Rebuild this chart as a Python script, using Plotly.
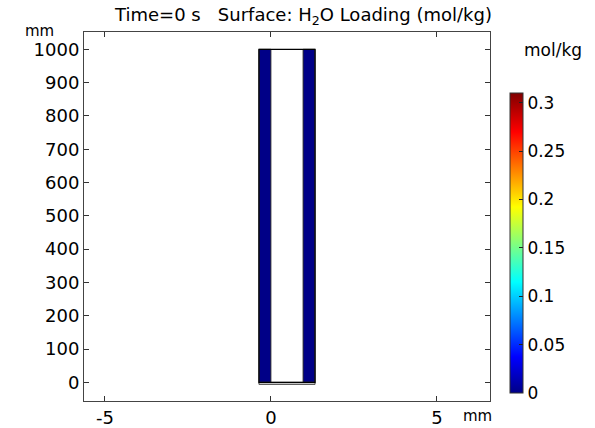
import plotly.graph_objects as go

# --- data ---
wall_x_edges = [-0.36, 0.0, 0.97, 1.33]   # mm: left wall, gap, right wall
wall_y_edges = [0, 1000]                   # mm
loading = [[0.0, None, 0.0]]               # mol/kg at Time=0 s
base_strip_y = [-6, 0]                     # thin bottom boundary strip (mm)
x_ticks = [-5, 0, 5]
x_tick_text = ["-5", "0", "5"]
y_ticks = [0, 100, 200, 300, 400, 500, 600, 700, 800, 900, 1000]
cbar_ticks = [0, 0.05, 0.1, 0.15, 0.2, 0.25, 0.3]
cmin, cmax = 0.0, 0.31

FONT = "DejaVu Sans"
rainbow = [
    [0.0, "rgb(0,0,135)"],
    [0.12, "rgb(0,0,255)"],
    [0.37, "rgb(0,255,255)"],
    [0.62, "rgb(255,255,0)"],
    [0.87, "rgb(255,0,0)"],
    [1.0, "rgb(128,0,0)"],
]

fig = go.Figure()
fig.add_trace(go.Heatmap(
    x=wall_x_edges, y=wall_y_edges, z=loading,
    colorscale=rainbow, zmin=cmin, zmax=cmax,
    hoverongaps=False,
    colorbar=dict(
        x=1.049, xanchor="left", xref="paper",
        y=0.428, yanchor="middle",
        thickness=13, thicknessmode="pixels",
        len=300, lenmode="pixels",
        outlinecolor="#333333", outlinewidth=1,
        ticks="inside", ticklen=4, tickcolor="#222222",
        tickvals=cbar_ticks, ticktext=[f"{v:g}" for v in cbar_ticks],
        tickfont=dict(family=FONT, size=17, color="black"),
        xpad=0, ypad=0,
    ),
))

x0, x1 = wall_x_edges[0], wall_x_edges[-1]
# bottom boundary strip
fig.add_shape(type="rect", x0=x0, x1=x1, y0=base_strip_y[0], y1=base_strip_y[1],
              fillcolor="#d8d8d8", line=dict(color="#444444", width=1))
# outline of the two walls and the domain
for i in (0, 2):
    fig.add_shape(type="rect", x0=wall_x_edges[i], x1=wall_x_edges[i + 1],
                  y0=wall_y_edges[0], y1=wall_y_edges[1],
                  line=dict(color="#333333", width=1))
fig.add_shape(type="rect", x0=x0, x1=x1, y0=wall_y_edges[0], y1=wall_y_edges[1],
              line=dict(color="black", width=1.2))

axis_common = dict(
    showgrid=False, zeroline=False, automargin=False,
    showline=True, linecolor="#444444", linewidth=1, mirror="ticks",
    ticks="inside", ticklen=5, tickcolor="#333333",
    tickfont=dict(family=FONT, size=18, color="black"),
)
fig.update_xaxes(range=[-5.63, 6.6], tickvals=x_ticks, ticktext=x_tick_text,
                 **axis_common)
fig.update_yaxes(range=[-56, 1052], tickvals=y_ticks, **axis_common)

fig.update_layout(
    width=595, height=428,
    margin=dict(l=84, r=105, t=32, b=27, autoexpand=False),
    paper_bgcolor="white", plot_bgcolor="white",
    showlegend=False,
    font=dict(family=FONT, color="black"),
    annotations=[
        dict(text="Time=0 s   Surface: H<sub>2</sub>O Loading (mol/kg)",
             xref="paper", yref="paper", x=0.54, y=1.0, yshift=16,
             xanchor="center", yanchor="middle", showarrow=False,
             font=dict(family=FONT, size=18, color="black")),
        dict(text="mm", xref="paper", yref="paper", x=0, xshift=-61, y=1.0,
             yshift=1, xanchor="left", yanchor="middle", showarrow=False,
             font=dict(family=FONT, size=15, color="black")),
        dict(text="mm", xref="paper", yref="paper", x=1.0, xshift=-29, y=0,
             yshift=-15, xanchor="left", yanchor="middle", showarrow=False,
             font=dict(family=FONT, size=15, color="black")),
        dict(text="mol/kg", xref="paper", yref="paper", x=1.0, xshift=32, y=1.0,
             yshift=-18, xanchor="left", yanchor="middle", showarrow=False,
             font=dict(family=FONT, size=17, color="black")),
    ],
)

fig.write_html("out.html")
